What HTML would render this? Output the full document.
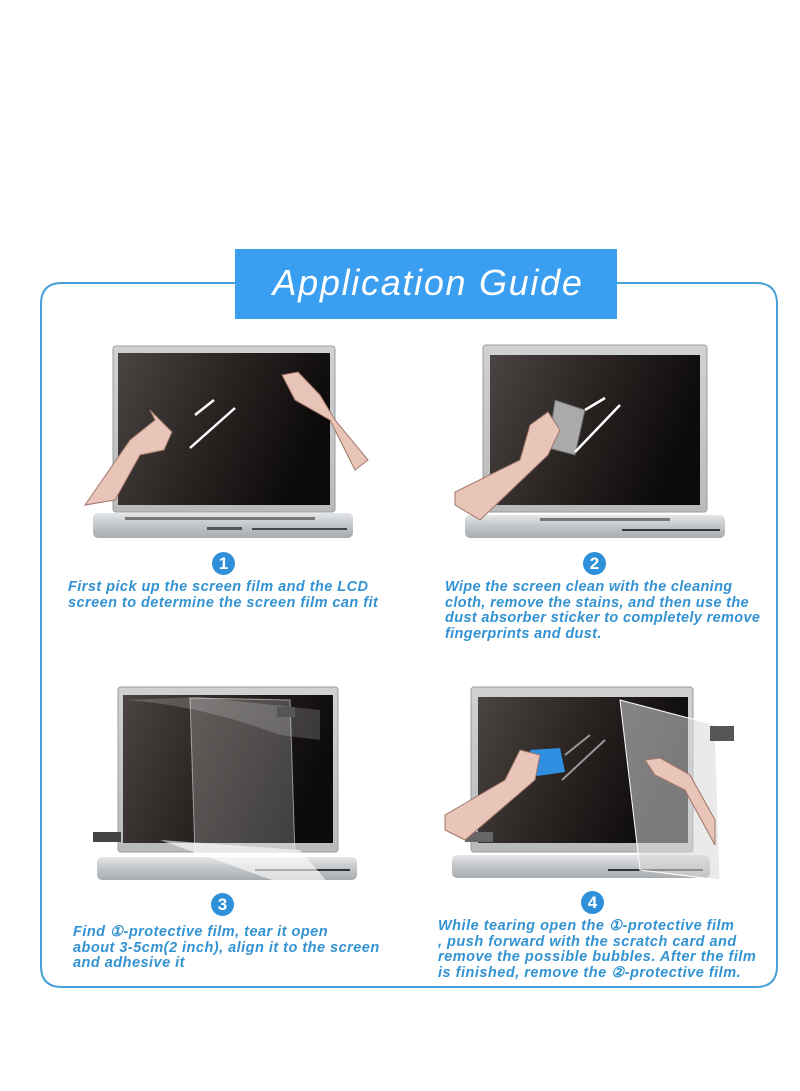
<!DOCTYPE html>
<html><head><meta charset="utf-8"><style>
html,body{margin:0;padding:0;background:#fff;}
body{width:800px;height:1091px;position:relative;overflow:hidden;font-family:"Liberation Sans",Arial,sans-serif;}
.t{position:absolute;color:#3393d2;font-style:italic;font-weight:bold;font-size:14.5px;line-height:15.5px;white-space:nowrap;letter-spacing:0.35px;}
.n{position:absolute;width:23px;height:23px;border-radius:50%;background:#2f8fd8;color:#fff;font-weight:bold;font-size:17px;line-height:23px;text-align:center;}
</style></head><body>
<svg width="800" height="1091" style="position:absolute;left:0;top:0">
<defs>
<linearGradient id="scr" x1="0" y1="0" x2="1" y2="0.3"><stop offset="0" stop-color="#4a4442"/><stop offset="0.5" stop-color="#2a2523"/><stop offset="1" stop-color="#0c0a0a"/></linearGradient>
<linearGradient id="base" x1="0" y1="0" x2="0" y2="1"><stop offset="0" stop-color="#e4e6e8"/><stop offset="0.5" stop-color="#c2c5c8"/><stop offset="1" stop-color="#a9acaf"/></linearGradient>
<linearGradient id="bez" x1="0" y1="0" x2="0" y2="1"><stop offset="0" stop-color="#cfd1d3"/><stop offset="1" stop-color="#b8babc"/></linearGradient>
</defs>
<path d="M235 283 H62 Q41 283 41 304 V966 Q41 987 62 987 H756 Q777 987 777 966 V304 Q777 283 756 283 H617" fill="none" stroke="#4aa0d8" stroke-width="2"/>
<rect x="235" y="249" width="382" height="70" fill="#3a9ff0"/>
<text x="428" y="295" text-anchor="middle" font-family="Liberation Sans" font-style="italic" font-size="36" letter-spacing="1.7" fill="#fff">Application Guide</text>

<!-- laptop1 -->
<rect x="113" y="346" width="222" height="166" rx="3" fill="url(#bez)" stroke="#9a9c9e"/>
<rect x="118" y="353" width="212" height="152" fill="url(#scr)"/>
<rect x="93" y="513" width="260" height="25" rx="5" fill="url(#base)"/>
<rect x="125" y="517" width="190" height="3" fill="#777"/>
<rect x="207" y="527" width="35" height="3" fill="#555"/>
<rect x="252" y="528" width="95" height="2" fill="#444"/>
<path d="M85 505 L130 440 L155 420 L150 410 L172 432 L164 450 L140 455 L115 500 Z" fill="#e9c4b8" stroke="#a07568"/>
<path d="M355 470 L330 420 L295 400 L282 375 L298 372 L320 395 L335 420 L368 460 Z" fill="#e9c4b8" stroke="#a07568"/>
<path d="M195 415 L214 400 M190 448 L235 408" stroke="#fff" stroke-width="2.5" fill="none"/>

<!-- laptop2 -->
<rect x="483" y="345" width="224" height="167" rx="3" fill="url(#bez)" stroke="#9a9c9e"/>
<rect x="490" y="355" width="210" height="150" fill="url(#scr)"/>
<rect x="465" y="515" width="260" height="23" rx="5" fill="url(#base)"/>
<rect x="540" y="518" width="130" height="3" fill="#777"/>
<rect x="622" y="529" width="98" height="2" fill="#333"/>
<path d="M555 400 L585 410 L575 455 L548 448 Z" fill="#aaa" stroke="#666"/>
<path d="M455 505 L455 492 L520 460 L530 425 L548 412 L560 430 L548 455 L480 520 Z" fill="#e9c4b8" stroke="#a07568"/>
<path d="M585 410 L605 398 M575 452 L620 405" stroke="#fff" stroke-width="2.5" fill="none"/>

<!-- laptop3 -->
<rect x="118" y="687" width="220" height="165" rx="3" fill="url(#bez)" stroke="#9a9c9e"/>
<rect x="123" y="695" width="210" height="148" fill="url(#scr)"/>
<rect x="97" y="857" width="260" height="23" rx="5" fill="url(#base)"/>
<rect x="255" y="869" width="95" height="2" fill="#333"/>
<path d="M190 698 L290 700 L295 855 L195 855 Z" fill="#fff" fill-opacity="0.22" stroke="#fff" stroke-opacity="0.5"/>
<path d="M125 700 Q200 705 280 735 L320 740 L320 710 L200 697 Z" fill="#fff" fill-opacity="0.18"/>
<rect x="277" y="707" width="18" height="10" fill="#555"/>
<rect x="93" y="832" width="28" height="10" fill="#444"/>
<path d="M160 840 L300 890 L330 885 L300 850 Z" fill="#fff" fill-opacity="0.6"/>

<!-- laptop4 -->
<rect x="471" y="687" width="222" height="165" rx="3" fill="url(#bez)" stroke="#9a9c9e"/>
<rect x="478" y="697" width="210" height="146" fill="url(#scr)"/>
<rect x="452" y="855" width="258" height="23" rx="5" fill="url(#base)"/>
<rect x="608" y="869" width="95" height="2" fill="#333"/>
<path d="M620 700 L715 725 L720 880 L640 870 Z" fill="#d8d8d8" fill-opacity="0.55" stroke="#fff"/>
<rect x="710" y="726" width="24" height="15" fill="#555"/>
<rect x="465" y="832" width="28" height="10" fill="#666"/>
<path d="M530 750 L560 748 L565 772 L537 776 Z" fill="#2f8fe0"/>
<path d="M445 830 L445 815 L505 780 L520 750 L540 755 L535 780 L465 840 Z" fill="#e9c4b8" stroke="#a07568"/>
<path d="M715 845 L685 790 L655 775 L645 760 L660 758 L690 775 L715 820 Z" fill="#e9c4b8" stroke="#a07568"/>
<path d="M565 755 L590 735 M562 780 L605 740" stroke="#999" stroke-width="2" fill="none"/>
</svg>

<div class="n" style="left:212px;top:552px">1</div>
<div class="n" style="left:583px;top:552px">2</div>
<div class="n" style="left:211px;top:893px">3</div>
<div class="n" style="left:581px;top:891px">4</div>

<div class="t" style="left:68px;top:580px;letter-spacing:0.45px">First pick up the screen film and the LCD<br>screen to determine the screen film can fit</div>
<div class="t" style="left:445px;top:580px">Wipe the screen clean with the cleaning<br>cloth, remove the stains, and then use the<br>dust absorber sticker to completely remove<br>fingerprints and dust.</div>
<div class="t" style="left:73px;top:925px;letter-spacing:0.48px">Find ①-protective film, tear it open<br>about 3-5cm(2 inch), align it to the screen<br>and adhesive it</div>
<div class="t" style="left:438px;top:919px;letter-spacing:0.5px">While tearing open the ①-protective film<br>, push forward with the scratch card and<br>remove the possible bubbles. After the film<br>is finished, remove the ②-protective film.</div>
</body></html>
